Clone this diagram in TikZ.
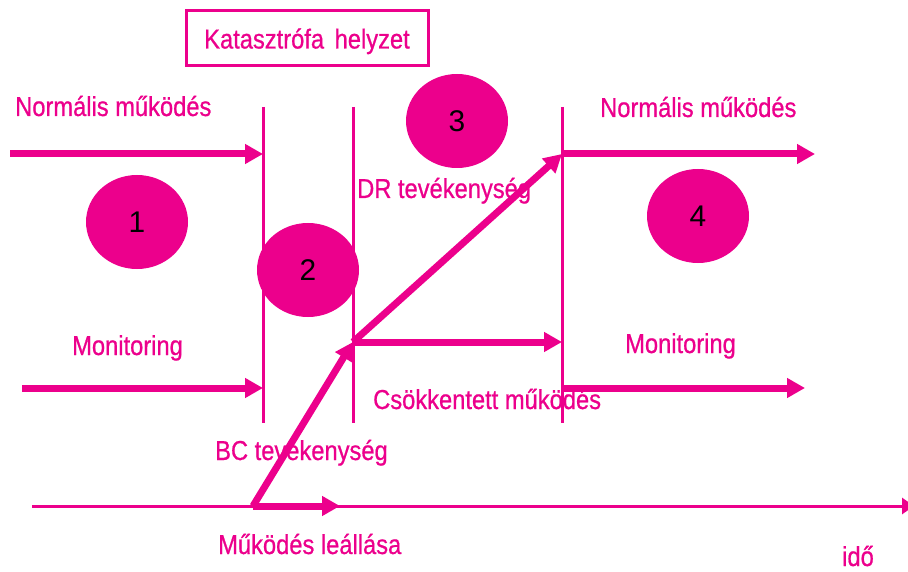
\documentclass[tikz,border=0pt]{standalone}
\usepackage{fontspec}
\setmainfont{Liberation Sans}[FakeStretch=0.865,FakeBold=0.7]
\newfontfamily\numfont{Liberation Sans}
\usetikzlibrary{arrows.meta,shapes.geometric}
\definecolor{mag}{RGB}{236,0,140}
\begin{document}
\begin{tikzpicture}[x=1bp,y=-1bp,
  lbl/.style={text=mag, font=\fontsize{27.5}{30}\selectfont, inner sep=0pt, anchor=base west},
  num/.style={ellipse, fill=mag, minimum width=102bp, minimum height=94bp, inner sep=0pt,
              font=\numfont\fontsize{30}{32}\selectfont, text=black},
  vline/.style={draw=mag, line width=3bp},
  bigarrow/.style={draw=mag, line width=7bp, -{Triangle[length=18bp,width=19bp]}},
  axisarrow/.style={draw=mag, line width=3bp, -{Triangle[length=12bp,width=16bp]}}
]
\useasboundingbox (0,0) rectangle (908,572);

% title box
\node[draw=mag, line width=3bp, minimum width=242bp, minimum height=55bp, inner sep=0pt,
      text height=20bp, text depth=0bp, text=mag, font=\fontsize{27.5}{30}\selectfont]
      (box) at (307,38.5) {Katasztrófa\hspace{4bp} helyzet};

% labels
\node[lbl] (nL) at (15,116) {Normális működés};
\node[lbl] (nR) at (600,117) {Normális működés};
\node[lbl] (drl) at (357,198) {DR tevékenység};
\node[lbl] (monL) at (72,355) {Monitoring};
\node[lbl] (monR) at (625,353) {Monitoring};
\node[lbl] (csk) at (373,409) {Csökkentett működés};
\node[lbl] (bcl) at (215,460) {BC tevékenység};
\node[lbl] (mul) at (218,554) {Működés leállása};
\node[lbl] (ido) at (842,566) {idő};

% coordinates
\coordinate (v1t) at (263,107); \coordinate (v1b) at (263,423);
\coordinate (v2t) at (353,107); \coordinate (v2b) at (353,423);
\coordinate (v3t) at (562,107); \coordinate (v3b) at (562,423);
\coordinate (aL1s) at (10,154);  \coordinate (aL1e) at (263,154);
\coordinate (aR1s) at (562,154); \coordinate (aR1e) at (815,154);
\coordinate (aL2s) at (22,388);  \coordinate (aL2e) at (263,388);
\coordinate (aR2s) at (562,388); \coordinate (aR2e) at (805,388);
\coordinate (stop) at (253,506); \coordinate (stopE) at (340,506);
\coordinate (bc) at (353,342);   \coordinate (midE) at (562,342);
\coordinate (dr) at (562,154);
\coordinate (t0) at (32,506);    \coordinate (t1) at (914,506);

% vertical separators
\draw[vline] (v1t) -- (v1b);
\draw[vline] (v2t) -- (v2b);
\draw[vline] (v3t) -- (v3b);

% time axis
\draw[axisarrow] (t0) -- (t1);

% arrows
\draw[bigarrow] (aL1s) -- (aL1e);
\draw[bigarrow] (aR1s) -- (aR1e);
\draw[bigarrow] (aL2s) -- (aL2e);
\draw[bigarrow] (aR2s) -- (aR2e);
\draw[bigarrow] (stop) -- (stopE);
\draw[bigarrow] (stop) -- (bc);
\draw[bigarrow] (bc) -- (midE);
\draw[bigarrow] (bc) -- (dr);

% phase circles
\node[num] (c1) at (137,222) {1};
\node[num] (c2) at (308,270) {2};
\node[num] (c3) at (457,121) {3};
\node[num] (c4) at (698,216) {4};
\end{tikzpicture}
\end{document}
